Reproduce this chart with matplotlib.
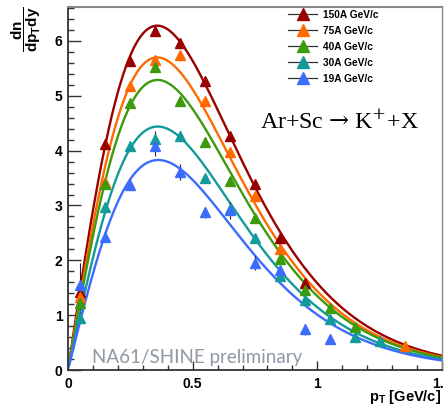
import numpy as np
import matplotlib
matplotlib.use("Agg")
import matplotlib.pyplot as plt
from matplotlib.lines import Line2D
from matplotlib.ticker import MultipleLocator

# ---------------- data ----------------
labels = ["150A GeV/c", "75A GeV/c", "40A GeV/c", "30A GeV/c", "19A GeV/c"]
colors = ["#990000", "#ff6a00", "#3c9a0c", "#139a9a", "#3d6bff"]

x_150 = [0.05, 0.15, 0.25, 0.35, 0.45, 0.55, 0.65, 0.75, 0.85, 0.95]
y_150 = [1.43, 4.12, 5.64, 6.19, 5.97, 5.27, 4.26, 3.39, 2.40, 1.58]
e_150 = [0.10, 0.06, 0.06, 0.06, 0.06, 0.06, 0.06, 0.05, 0.05, 0.05]

x_75 = [0.05, 0.15, 0.25, 0.35, 0.45, 0.55, 0.65, 0.75, 0.85, 1.35]
y_75 = [1.34, 3.42, 5.18, 5.65, 5.74, 4.90, 3.98, 3.18, 2.20, 0.44]
e_75 = [0.10, 0.06, 0.06, 0.06, 0.06, 0.06, 0.06, 0.05, 0.05, 0.08]

x_40 = [0.05, 0.15, 0.25, 0.35, 0.45, 0.55, 0.65, 0.75, 0.85, 0.95, 1.05, 1.15]
y_40 = [1.22, 3.39, 4.87, 5.52, 4.91, 4.16, 3.45, 2.78, 2.02, 1.45, 1.13, 0.78]
e_40 = [0.10, 0.06, 0.06, 0.08, 0.06, 0.06, 0.06, 0.05, 0.05, 0.05, 0.05, 0.05]

x_30 = [0.05, 0.15, 0.25, 0.35, 0.45, 0.55, 0.65, 0.75, 0.85, 0.95, 1.05, 1.15, 1.25]
y_30 = [0.95, 2.98, 4.09, 4.21, 4.27, 3.50, 2.93, 2.40, 1.72, 1.28, 0.93, 0.60, 0.52]
e_30 = [0.10, 0.06, 0.06, 0.15, 0.08, 0.06, 0.06, 0.05, 0.05, 0.05, 0.05, 0.05, 0.05]

x_19 = [0.05, 0.15, 0.25, 0.35, 0.45, 0.55, 0.65, 0.75, 0.85, 0.95, 1.05]
y_19 = [1.55, 2.43, 3.38, 4.09, 3.61, 2.88, 2.91, 1.95, 1.82, 0.74, 0.56]
e_19 = [0.40, 0.08, 0.10, 0.18, 0.15, 0.10, 0.15, 0.12, 0.08, 0.10, 0.06]

# fit curves: A * pT * exp(-mT/T), parameters
fit_peak = [6.28, 5.70, 5.29, 4.44, 3.83]
fit_T = [0.210, 0.210, 0.211, 0.212, 0.214]
kaon_mass = 0.4937

xs = [x_150, x_75, x_40, x_30, x_19]
ys = [y_150, y_75, y_40, y_30, y_19]
es = [e_150, e_75, e_40, e_30, e_19]

plt.rcParams["mathtext.fontset"] = "custom"
plt.rcParams["mathtext.rm"] = "Liberation Sans:bold"
plt.rcParams["mathtext.bf"] = "Liberation Sans:bold"
plt.rcParams["mathtext.it"] = "Liberation Sans:bold"

# ---------------- figure ----------------
W, H = 444, 407
fig = plt.figure(figsize=(W / 100, H / 100), dpi=100)
ax = fig.add_axes([68 / W, 1 - 370 / H, (442 - 68) / W, (370 - 7) / H])
ax.set_xlim(0, 1.5)
ax.set_ylim(0, 6.62)

pt = np.linspace(0.004, 1.5, 400)
for i in range(5):
    T = fit_T[i]
    shape = pt * np.exp(-np.sqrt(pt ** 2 + kaon_mass ** 2) / T)
    ax.plot(pt, fit_peak[i] * shape / shape.max(), color=colors[i], lw=1.7, zorder=2)

for i in range(5):
    ax.errorbar(xs[i], ys[i], yerr=es[i], fmt="none", ecolor="#222222",
                elinewidth=0.8, capsize=0, zorder=3)
    ax.plot(xs[i], ys[i], ls="none", marker="^", ms=7.5, color=colors[i],
            mec=colors[i], zorder=4)

# axes styling (ROOT-like)
ax.xaxis.set_major_locator(MultipleLocator(0.5))
ax.xaxis.set_minor_locator(MultipleLocator(0.1))
ax.yaxis.set_major_locator(MultipleLocator(1))
ax.yaxis.set_minor_locator(MultipleLocator(0.2))
ax.tick_params(which="both", direction="in", top=False, right=False,
               colors="#333333", width=1.0)
ax.tick_params(axis="y", which="major", length=9, pad=4)
ax.tick_params(axis="y", which="minor", length=4.5)
ax.tick_params(axis="x", which="major", length=6.5, pad=5)
ax.tick_params(axis="x", which="minor", length=3.5)
ax.set_xticks([0, 0.5, 1, 1.5])
ax.set_xticklabels(["0", "0.5", "1", "1.5"])
for lab in ax.get_xticklabels() + ax.get_yticklabels():
    lab.set_fontfamily("Liberation Sans")
    lab.set_fontweight("bold")
    lab.set_fontsize(10)
    lab.set_color("black")
ax.spines["left"].set_linewidth(1.3)
ax.spines["bottom"].set_linewidth(1.3)
ax.spines["left"].set_color("#333333")
ax.spines["bottom"].set_color("#333333")
ax.spines["top"].set_color("#888888")
ax.spines["right"].set_color("#888888")
ax.spines["top"].set_linewidth(1.5)
ax.spines["right"].set_linewidth(1.0)

# y title (rotated fraction at top)
fig.text(26 / W, 1 - 29 / H, r"$\dfrac{\mathbf{dn}}{\mathbf{dp_{T}dy}}$",
         rotation=90, ha="center", va="center", fontsize=11)
# x title
fig.text(441 / W, 1 - 397 / H, r"$\mathbf{p_{T}}$ [GeV/c]",
         ha="right", va="center", fontsize=10.5, fontweight="bold",
         family="Liberation Sans")

# legend
handles = [Line2D([], [], color="#333333", lw=0.9, marker="^", ms=8,
                  mfc=c, mec=c) for c in colors]
leg = fig.legend(handles, labels, loc="upper left",
                 bbox_to_anchor=(288 / W, 1 - 10 / H),
                 frameon=False, borderpad=0, borderaxespad=0,
                 handlelength=2.9, handletextpad=0.6, labelspacing=0.58,
                 prop={"family": "Liberation Sans", "weight": "bold", "size": 7.3})

# reaction label
fig.text(260 / W, 1 - 122 / H, "Ar+Sc $\u2192$ K$^{+}$+X",
         family=["Liberation Serif", "DejaVu Serif"], fontsize=17.2,
         ha="left", va="center", math_fontfamily="dejavuserif")

# preliminary
fig.text(92 / W, 1 - 363 / H, "NA61/SHINE preliminary", family="Lato",
         fontsize=13.5, color="#8f99a4", ha="left", va="baseline")

fig.savefig("out.png", dpi=100)
